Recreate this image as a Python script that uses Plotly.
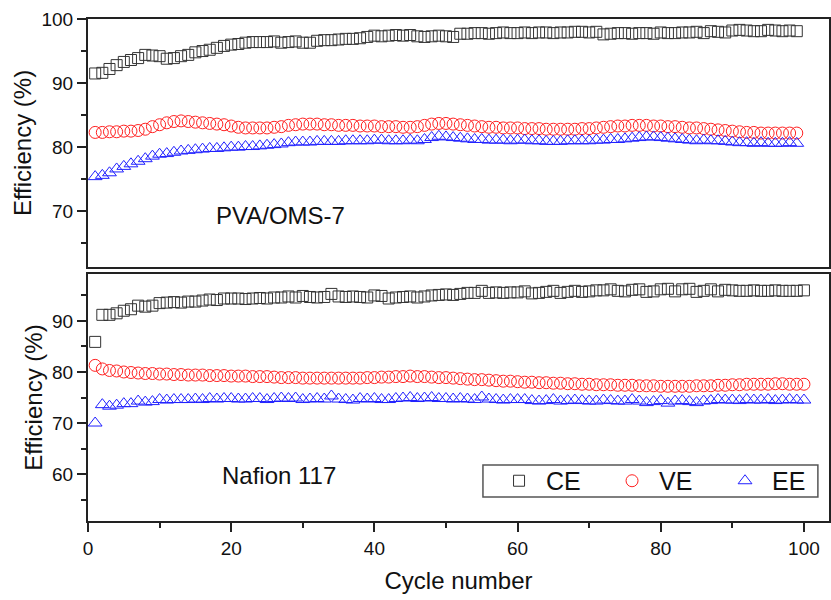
import plotly.graph_objects as go

cycles_top = list(range(1, 100))
cycles_bottom = list(range(1, 101))

ce_top = [91.5, 91.6, 92.2, 92.8, 93.3, 93.6, 93.9, 94.4, 94.3, 94.2,
          93.8, 93.9, 94.2, 94.4, 94.8, 95.0, 95.2, 95.5, 95.8, 96.0,
          96.1, 96.3, 96.4, 96.4, 96.4, 96.5, 96.3, 96.4, 96.5, 96.3,
          96.3, 96.6, 96.7, 96.7, 96.8, 96.9, 96.9, 97.0, 97.2, 97.4,
          97.3, 97.4, 97.5, 97.4, 97.5, 97.3, 97.2, 97.3, 97.4, 97.3,
          97.2, 97.7, 97.7, 97.8, 97.8, 97.7, 97.8, 97.9, 97.8, 97.8,
          97.9, 97.8, 97.9, 97.9, 97.8, 97.9, 97.9, 98.0, 98.0, 97.9,
          98.0, 97.6, 97.7, 97.8, 97.8, 97.7, 97.8, 97.8, 97.7, 97.9,
          97.8, 97.8, 97.9, 97.9, 98.0, 97.8, 98.1, 98.0, 97.9, 98.2,
          98.3, 98.2, 98.1, 98.1, 98.3, 98.2, 98.1, 98.2, 98.1]

ve_top = [82.3, 82.3, 82.4, 82.4, 82.5, 82.5, 82.6, 82.8, 83.2, 83.5,
          83.8, 84.0, 84.1, 84.0, 83.9, 83.8, 83.7, 83.6, 83.5, 83.3,
          83.1, 83.0, 83.0, 83.0, 83.0, 83.1, 83.2, 83.4, 83.5, 83.6,
          83.6, 83.6, 83.5, 83.5, 83.4, 83.4, 83.4, 83.3, 83.3, 83.3,
          83.2, 83.2, 83.2, 83.1, 83.1, 83.2, 83.4, 83.6, 83.7, 83.7,
          83.6, 83.5, 83.4, 83.3, 83.2, 83.1, 83.1, 83.0, 83.0, 83.0,
          82.9, 82.9, 82.9, 82.8, 82.8, 82.8, 82.8, 82.8, 82.9, 82.9,
          83.0, 83.1, 83.2, 83.3, 83.3, 83.4, 83.4, 83.4, 83.3, 83.3,
          83.2, 83.2, 83.1, 83.0, 83.0, 82.9, 82.8, 82.7, 82.6, 82.5,
          82.4, 82.3, 82.3, 82.2, 82.2, 82.2, 82.2, 82.2, 82.2]

ee_top = [75.4, 75.6, 76.0, 76.6, 77.0, 77.4, 77.8, 78.2, 78.6, 78.9,
          79.0, 79.2, 79.4, 79.5, 79.6, 79.7, 79.8, 79.8, 79.9, 80.0,
          80.0, 80.1, 80.1, 80.2, 80.3, 80.4, 80.5, 80.7, 80.8, 80.8,
          80.8, 80.9, 80.9, 80.9, 80.9, 81.0, 81.0, 81.0, 81.0, 81.1,
          81.1, 81.0, 81.0, 81.0, 81.1, 81.0, 81.2, 81.5, 81.7, 81.6,
          81.5, 81.4, 81.3, 81.2, 81.2, 81.1, 81.1, 81.1, 81.0, 81.1,
          81.1, 81.0, 81.0, 80.9, 80.9, 80.9, 81.0, 81.0, 81.0, 81.0,
          81.1, 81.1, 81.2, 81.2, 81.3, 81.4, 81.5, 81.6, 81.6, 81.5,
          81.4, 81.3, 81.2, 81.1, 81.0, 81.1, 81.0, 81.0, 80.9, 80.8,
          80.7, 80.7, 80.6, 80.7, 80.6, 80.6, 80.6, 80.7, 80.6]

ce_bottom = [85.9, 91.2, 91.2, 91.5, 92.0, 92.3, 93.0, 92.8, 93.0, 93.5,
             93.6, 93.7, 93.6, 93.8, 93.8, 94.0, 94.2, 94.1, 94.4, 94.4,
             94.4, 94.3, 94.4, 94.5, 94.4, 94.6, 94.6, 94.8, 94.6, 94.9,
             94.7, 94.6, 94.7, 95.3, 94.8, 94.7, 94.8, 94.7, 94.6, 95.0,
             94.9, 94.4, 94.6, 94.7, 94.8, 94.6, 94.8, 95.0, 95.1, 95.2,
             95.1, 95.3, 95.5, 95.5, 95.9, 95.5, 95.6, 95.5, 95.6, 95.6,
             95.8, 95.4, 95.5, 95.7, 95.9, 95.5, 95.7, 95.9, 95.7, 95.8,
             96.0, 96.0, 96.2, 95.9, 95.8, 96.1, 96.2, 95.7, 95.8, 96.2,
             96.3, 95.8, 96.2, 96.3, 95.7, 95.9, 96.2, 95.8, 96.1, 96.0,
             95.9, 95.9, 96.0, 95.9, 95.9, 96.0, 95.9, 95.9, 95.9, 96.0]

ve_bottom = [81.3, 80.6, 80.3, 80.2, 80.0, 79.9, 79.8, 79.7, 79.7, 79.6,
             79.6, 79.5, 79.5, 79.4, 79.4, 79.4, 79.3, 79.3, 79.3, 79.2,
             79.2, 79.2, 79.1, 79.1, 79.1, 79.0, 78.9, 78.9, 78.9, 78.8,
             78.8, 78.8, 78.8, 78.8, 78.8, 78.8, 78.8, 78.8, 78.9, 78.9,
             79.0, 79.0, 79.1, 79.1, 79.2, 79.1, 79.1, 79.0, 78.9, 78.9,
             78.8, 78.7, 78.6, 78.5, 78.5, 78.4, 78.3, 78.2, 78.2, 78.1,
             78.0, 78.0, 77.9, 77.9, 77.8, 77.8, 77.7, 77.7, 77.6, 77.6,
             77.5, 77.5, 77.5, 77.4, 77.4, 77.4, 77.3, 77.3, 77.3, 77.2,
             77.2, 77.2, 77.2, 77.2, 77.3, 77.3, 77.3, 77.4, 77.4, 77.5,
             77.5, 77.6, 77.6, 77.6, 77.6, 77.7, 77.7, 77.6, 77.6, 77.6]

ee_bottom = [70.0, 73.6, 73.3, 73.5, 73.8, 73.8, 74.3, 74.1, 74.2, 74.6,
             74.5, 74.6, 74.6, 74.6, 74.7, 74.6, 74.8, 74.7, 74.8, 74.8,
             74.7, 74.7, 74.8, 74.8, 74.6, 74.8, 74.9, 74.8, 74.9, 74.6,
             74.7, 74.8, 74.7, 75.3, 74.7, 74.6, 74.5, 74.8, 74.7, 74.8,
             74.6, 74.6, 74.8, 74.9, 75.0, 74.8, 74.9, 75.0, 74.8, 74.8,
             74.7, 74.8, 74.7, 74.6, 75.1, 74.7, 74.6, 74.5, 74.6, 74.6,
             74.6, 74.4, 74.3, 74.4, 74.6, 74.3, 74.4, 74.5, 74.4, 74.3,
             74.3, 74.5, 74.4, 74.3, 74.3, 74.6, 74.3, 74.0, 74.2, 74.4,
             73.9, 74.3, 74.4, 74.2, 74.0, 74.3, 74.4, 74.6, 74.5, 74.5,
             74.4, 74.6, 74.5, 74.5, 74.6, 74.4, 74.5, 74.6, 74.5, 74.5]

panel_labels = ["PVA/OMS-7", "Nafion 117"]
series_names = ["CE", "VE", "EE"]
y_ticks_top = [70, 80, 90, 100]
y_ticks_bottom = [60, 70, 80, 90]
x_ticks = [0, 20, 40, 60, 80, 100]

FONT = "Arial, 'Liberation Sans', sans-serif"
colors = {"CE": "#333333", "VE": "#ff2020", "EE": "#2020ff"}
symbols = {"CE": "square-open", "VE": "circle-open", "EE": "triangle-up-open"}
sizes = {"CE": 11, "VE": 12, "EE": 12}
NBSP = "\u00a0"

fig = go.Figure()

top_data = {"CE": ce_top, "VE": ve_top, "EE": ee_top}
bottom_data = {"CE": ce_bottom, "VE": ve_bottom, "EE": ee_bottom}

for name in series_names:
    fig.add_trace(go.Scatter(
        x=cycles_top, y=top_data[name], mode="markers", name=name,
        showlegend=False, xaxis="x2", yaxis="y2",
        marker=dict(symbol=symbols[name], size=sizes[name], color=colors[name],
                    line=dict(width=1, color=colors[name]))))

for name in series_names:
    fig.add_trace(go.Scatter(
        x=cycles_bottom, y=bottom_data[name], mode="markers", name=NBSP + name,
        showlegend=True, xaxis="x", yaxis="y",
        marker=dict(symbol=symbols[name], size=sizes[name], color=colors[name],
                    line=dict(width=1, color=colors[name]))))

axis_line = dict(showline=True, linecolor="#222222", linewidth=2, mirror=True,
                 showgrid=False, zeroline=False)

fig.update_layout(
    width=831, height=600,
    margin=dict(l=88, r=2, t=19, b=79, autoexpand=False),
    paper_bgcolor="white", plot_bgcolor="white",
    font=dict(family=FONT, size=19, color="#111111"),
    xaxis=dict(domain=[0, 1], anchor="y", range=[0, 103.5],
               tickvals=x_ticks, ticks="outside", ticklen=9, tickwidth=1.5,
               tickcolor="#222222",
               minor=dict(tickvals=[10, 30, 50, 70, 90], ticks="outside",
                          ticklen=5, tickwidth=1.5, tickcolor="#222222"),
               title=dict(text="Cycle number", font=dict(size=24), standoff=14),
               tickfont=dict(size=19), **axis_line),
    yaxis=dict(domain=[0, 0.492], anchor="x", range=[50.8, 99.2],
               tickvals=y_ticks_bottom, ticks="outside", ticklen=9, tickwidth=1.5,
               tickcolor="#222222",
               minor=dict(tickvals=[55, 65, 75, 85, 95], ticks="outside",
                          ticklen=5, tickwidth=1.5, tickcolor="#222222"),
               title=dict(text="Efficiency (%)", font=dict(size=24), standoff=3),
               tickfont=dict(size=19), **axis_line),
    xaxis2=dict(domain=[0, 1], anchor="y2", range=[0, 103.5],
                showticklabels=False, ticks="", **axis_line),
    yaxis2=dict(domain=[0.506, 1], anchor="x2", range=[61.3, 100],
                tickvals=y_ticks_top, ticks="outside", ticklen=9, tickwidth=1.5,
                tickcolor="#222222",
                minor=dict(tickvals=[65, 75, 85, 95], ticks="outside",
                           ticklen=5, tickwidth=1.5, tickcolor="#222222"),
                title=dict(text="Efficiency (%)", font=dict(size=24), standoff=3),
                tickfont=dict(size=19), **axis_line),
    legend=dict(orientation="h", x=0.5547, y=0.0797, xanchor="left", yanchor="middle",
                bgcolor="rgba(0,0,0,0)", borderwidth=0,
                font=dict(size=25), entrywidth=68, entrywidthmode="pixels",
                itemsizing="trace"),
    shapes=[dict(type="rect", xref="paper", yref="paper",
                 x0=0.533, x1=0.985, y0=0.048, y1=0.1116,
                 line=dict(color="#555555", width=1.5), fillcolor="rgba(0,0,0,0)",
                 layer="below")],
    annotations=[
        dict(text=panel_labels[0], xref="x2", yref="y2", x=17.6, y=69.3,
             showarrow=False, xanchor="left", yanchor="middle", font=dict(size=24)),
        dict(text=panel_labels[1], xref="x", yref="y", x=18.4, y=59.7,
             showarrow=False, xanchor="left", yanchor="middle", font=dict(size=24)),
    ],
)

fig.write_html("out.html")
